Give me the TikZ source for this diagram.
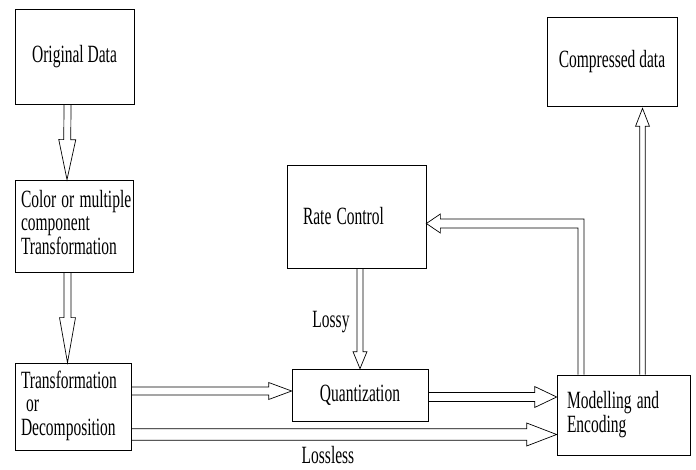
\documentclass[tikz,border=0pt]{standalone}
\usepackage{fontspec}
\setmainfont{Liberation Serif}
\usepackage{graphicx}
\usetikzlibrary{calc}
% tall, narrow lettering as in the scanned figure
\newcommand{\tall}[1]{\scalebox{1}[1.6]{#1}}
\newcommand{\lines}[1]{\tall{\begin{tabular}{@{}l@{}}#1\end{tabular}}}
\tikzset{
  box/.style={draw,line width=0.7pt,inner sep=0pt,
    font=\fontsize{15.5}{14.5}\selectfont},
  lbox/.style={box,align=left},
  word/.style={inner sep=0pt,font=\fontsize{15.5}{14.5}\selectfont},
  % hollow block arrow: {shaft half width}{head half width}{head length}
  hollow/.style n args={3}{line width=0.7pt,to path={
    let \p1=($(\tikztotarget)-(\tikztostart)$), \n1={atan2(\y1,\x1)} in
    ($(\tikztostart)+(\n1+90:#1)$)
    -- ($(\tikztotarget)+(\n1+180:#3)+(\n1+90:#1)$)
    -- ($(\tikztotarget)+(\n1+180:#3)+(\n1+90:#2)$)
    -- (\tikztotarget)
    -- ($(\tikztotarget)+(\n1+180:#3)+(\n1-90:#2)$)
    -- ($(\tikztotarget)+(\n1+180:#3)+(\n1-90:#1)$)
    -- ($(\tikztostart)+(\n1-90:#1)$)}}
}
\begin{document}
\begin{tikzpicture}[x=1pt,y=-1pt]
\useasboundingbox[fill=white] (0,0) rectangle (696,470);
% boxes
\node[box,minimum width=119pt,minimum height=95pt] (orig) at (74.5,56.5) {\tall{Original Data}};
\node[lbox,minimum width=118pt,minimum height=92pt,text width=106pt] (color) at (74,226)
  {\lines{Color or multiple\\component\\Transformation}};
\node[lbox,minimum width=116pt,minimum height=87pt,text width=104pt] (trans) at (73,406.5)
  {\lines{Transformation\\\ or\\Decomposition}};
\node[box,minimum width=136pt,minimum height=52pt] (quant) at (360,395) {\tall{Quantization}};
\node[lbox,minimum width=139pt,minimum height=103pt,text width=107pt] (rate) at (356.5,216.5)
  {\tall{Rate Control}};
\node[lbox,minimum width=133pt,minimum height=80pt,text width=113pt] (model) at (623.5,415)
  {\lines{Modelling and\\Encoding}};
\node[box,minimum width=130pt,minimum height=89pt] (comp) at (612,61.5) {\tall{Compressed data}};
% labels
\node[word] (lossy) at (331,322) {\tall{Lossy}};
\node[word] (lossless) at (328,455) {\tall{Lossless}};
% block arrows
\draw[hollow={3.5pt}{8.5pt}{40pt}] ([xshift=-7pt]orig.south) to ([xshift=-7pt]color.north);
\draw[hollow={3.5pt}{8pt}{45pt}] ([xshift=-6.5pt]color.south) to ([xshift=-5.5pt]trans.north);
\draw[hollow={4pt}{8.5pt}{23pt}] ([yshift=15.5pt]trans.east) to ([yshift=4pt]quant.west);
\draw[hollow={5.7pt}{11.5pt}{30pt}] ([yshift=-28pt]trans.east) to ([yshift=-19.5pt]model.west);
\draw[hollow={4.5pt}{10.5pt}{22pt}] ([yshift=-2pt]quant.east) to ([yshift=18pt]model.west);
\draw[hollow={3pt}{7pt}{17pt}] ([xshift=3.5pt]rate.south) to (quant.north);
\draw[hollow={2.8pt}{7pt}{18pt}] ([xshift=19pt]model.north) to ([xshift=30.5pt,yshift=-2pt]comp.south);
% feedback to rate control
\coordinate (fbfoot) at ([xshift=-42.5pt]model.north);
\coordinate (fbhead) at ([yshift=-7pt]rate.east);
\coordinate (fbcorner) at (fbfoot |- fbhead);
\draw[line width=0.7pt] ($(fbfoot)+(-3,0)$) -- ($(fbcorner)+(-3,4.5)$) -- ($(fbhead)+(14,4.5)$)
  -- ($(fbhead)+(14,9.5)$) -- (fbhead) -- ($(fbhead)+(14,-9.5)$) -- ($(fbhead)+(14,-4.5)$)
  -- ($(fbcorner)+(3,-4.5)$) -- ($(fbfoot)+(3,0)$);
\end{tikzpicture}
\end{document}
